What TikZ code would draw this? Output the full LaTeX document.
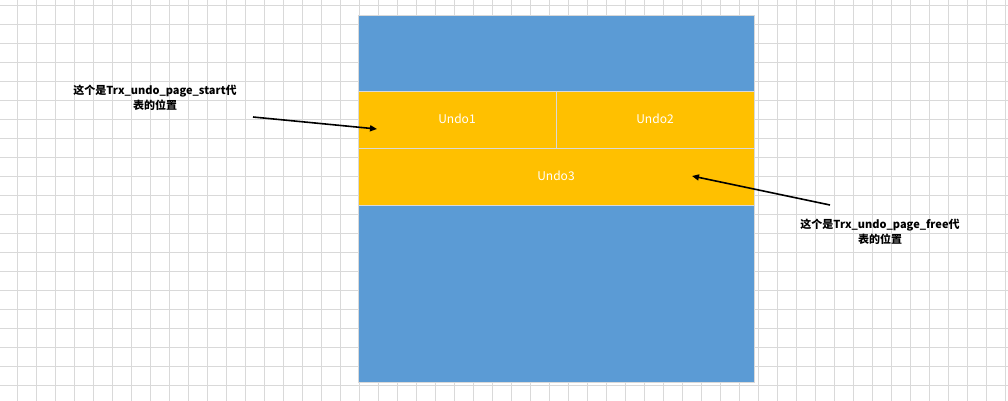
\documentclass[tikz,border=0pt]{standalone}
\usepackage{fontspec}
\newfontfamily\cjk{Noto Sans CJK SC}
\usetikzlibrary{arrows.meta}
\definecolor{bl}{HTML}{5B9BD5}
\definecolor{yl}{HTML}{FFC000}
\definecolor{gr}{HTML}{D9D9D9}
\begin{document}
\begin{tikzpicture}[x=1pt,y=-1pt,
  cell/.style={draw=gr,line width=0.8pt},
  lab/.style={font=\cjk\bfseries\fontsize{11}{15}\selectfont,align=center,text=black},
  ut/.style={font=\cjk\fontsize{12}{14}\selectfont,text=white},
  arr/.style={line width=1.6pt,-{Triangle[length=7pt,width=6pt]}}]
\useasboundingbox (0,0) rectangle (1008,401);
\fill[white] (0,0) rectangle (1008,401);
\foreach \i in {0,...,53} {\draw[gr,line width=0.6pt] (\i*19-2,0) -- (\i*19-2,401);}
\foreach \i in {0,...,21} {\draw[gr,line width=0.6pt] (0,\i*19+5) -- (1008,\i*19+5);}
\fill[cell,fill=bl] (358,15) rectangle (754,91);
\fill[cell,fill=yl] (358,91) rectangle (556,148);
\fill[cell,fill=yl] (556,91) rectangle (754,148);
\fill[cell,fill=yl] (358,148) rectangle (754,205);
\fill[cell,fill=bl] (358,205) rectangle (754,382);
\draw[gr,line width=0.8pt] (358,15) rectangle (754,382) (358,91)--(754,91) (358,148)--(754,148) (358,205)--(754,205) (556,91)--(556,148);
\node[ut] (u1) at (457,119) {Undo1};
\node[ut] (u2) at (655,119) {Undo2};
\node[ut] (u3) at (556,176) {Undo3};
\node[lab] (l1) at (155,98) {这个是Trx\_undo\_page\_start代\\表的位置};
\node[lab] (l2) at (880,232) {这个是Trx\_undo\_page\_free代\\表的位置};
\coordinate (a1) at (253,117);
\coordinate (b1) at (377,129);
\coordinate (a2) at (830,205);
\coordinate (b2) at (692,176);
\draw[arr] (a1) -- (b1);
\draw[arr] (a2) -- (b2);
\end{tikzpicture}
\end{document}
